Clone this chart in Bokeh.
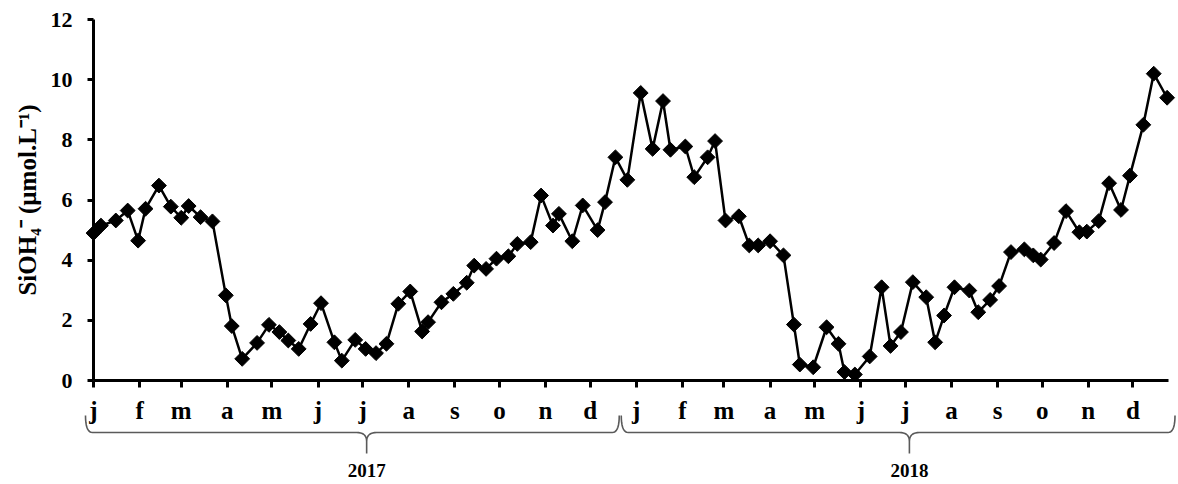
import numpy as np
import pandas as pd
from bokeh.plotting import figure
from bokeh.models import Range1d, FixedTicker, LinearAxis
from bokeh.embed import file_html
from bokeh.resources import INLINE
from bokeh.core.properties import value

# ---------------- data ----------------
series_start = "2017-01-01"
# sampling day (days since 2017-01-01)
sample_day = [0, 5, 15, 23, 30, 35, 44, 52, 59, 64, 72, 80, 89, 93, 100, 110,
              118, 125, 131, 138, 146, 153, 162, 167, 176, 183, 190, 197, 205,
              213, 221, 225, 234, 242, 251, 256, 264, 271, 279, 285, 294, 301,
              309, 313, 322, 329, 339, 344, 351, 359, 368, 376, 383, 388, 398,
              404, 413, 418, 425, 434, 441, 447, 455, 464, 471, 475, 484, 493,
              501, 505, 512, 522, 530, 536, 543, 551, 560, 566, 572, 579, 589,
              595, 603, 609, 617, 626, 632, 637, 646, 654, 663, 668, 676, 683,
              691, 697, 706, 713, 722]
# SiOH4- concentration (umol/L)
sioh4 = [4.90, 5.15, 5.32, 5.65, 4.65, 5.71, 6.48, 5.78, 5.41, 5.80, 5.43, 5.29,
         2.83, 1.81, 0.72, 1.25, 1.85, 1.61, 1.33, 1.05, 1.88, 2.57, 1.27, 0.66,
         1.35, 1.05, 0.91, 1.22, 2.55, 2.96, 1.63, 1.94, 2.60, 2.88, 3.25, 3.82,
         3.71, 4.05, 4.13, 4.54, 4.60, 6.15, 5.15, 5.54, 4.63, 5.82, 5.00, 5.93,
         7.42, 6.67, 9.56, 7.70, 9.29, 7.67, 7.78, 6.76, 7.42, 7.96, 5.32, 5.46,
         4.49, 4.49, 4.63, 4.16, 1.86, 0.53, 0.44, 1.77, 1.22, 0.28, 0.20, 0.80,
         3.10, 1.15, 1.61, 3.27, 2.77, 1.27, 2.16, 3.10, 2.99, 2.27, 2.68, 3.14,
         4.27, 4.36, 4.16, 4.02, 4.57, 5.63, 4.93, 4.95, 5.30, 6.56, 5.67, 6.81,
         8.50, 10.20, 9.40]
month_letters = ["j", "f", "m", "a", "m", "j", "j", "a", "s", "o", "n", "d"]
years = ["2017", "2018"]
y_ticks = [0, 2, 4, 6, 8, 10, 12]
y_label = "SiOH\u2084\u207b (\u00b5mol.L\u207b\u00b9)"

# ---------------- derived ticks ----------------
start = pd.Timestamp(series_start)
month_starts = pd.date_range("2017-01-01", "2018-12-01", freq="MS")
tick_days = [int((m - start).days) for m in month_starts]
tick_labels = month_letters * len(years)
year_starts = [int((pd.Timestamp(f"{y}-01-01") - start).days) for y in years]
year_ends = [int((pd.Timestamp(f"{int(y) + 1}-01-01") - start).days) for y in years]
mid_year = [int((pd.Timestamp(f"{y}-07-01") - start).days) for y in years]

# ---------------- layout constants ----------------
W, H = 1176, 480
PX_PER_DAY = 1.487
PX_PER_UNIT = 30.08
X0_PX = 93      # figure px of day 0
Y0_PX = 380     # figure px (from top) of value 0

x_range = Range1d(-X0_PX / PX_PER_DAY, (W - X0_PX) / PX_PER_DAY)
y_range = Range1d((Y0_PX - H) / PX_PER_UNIT, Y0_PX / PX_PER_UNIT)

FONT = value("Liberation Serif")

p = figure(width=W, height=H, x_range=x_range, y_range=y_range,
           output_backend="svg", toolbar_location=None, min_border=0,
           x_axis_location=None, y_axis_location=None)
p.outline_line_color = None
p.xgrid.visible = False
p.ygrid.visible = False
p.background_fill_color = "white"
p.border_fill_color = "white"

# x axis at y=0
xaxis = LinearAxis(fixed_location=0, ticker=FixedTicker(ticks=tick_days, minor_ticks=[]),
                   major_label_overrides={d: l for d, l in zip(tick_days, tick_labels)},
                   bounds=(0, 723))
xaxis.axis_line_width = 3
xaxis.axis_line_color = "black"
xaxis.major_tick_line_width = 3
xaxis.major_tick_out = 7
xaxis.major_tick_in = 0
xaxis.minor_tick_out = 0
xaxis.minor_tick_in = 0
xaxis.major_label_text_font = "Liberation Serif"
xaxis.major_label_text_font_style = "bold"
xaxis.major_label_text_font_size = "25px"
xaxis.major_label_text_color = "black"
xaxis.major_label_standoff = 9
p.add_layout(xaxis, "below")

# y axis at x=0
yaxis = LinearAxis(fixed_location=0, ticker=FixedTicker(ticks=y_ticks, minor_ticks=[]),
                   bounds=(0, 12), axis_label=y_label)
yaxis.axis_line_width = 3
yaxis.axis_line_color = "black"
yaxis.major_tick_line_width = 3
yaxis.major_tick_out = 6
yaxis.major_tick_in = 0
yaxis.minor_tick_out = 0
yaxis.minor_tick_in = 0
yaxis.major_label_text_font = "Liberation Serif"
yaxis.major_label_text_font_style = "bold"
yaxis.major_label_text_font_size = "22px"
yaxis.major_label_text_color = "black"
yaxis.major_label_standoff = 15
yaxis.axis_label_text_font = "Liberation Serif"
yaxis.axis_label_text_font_style = "bold"
yaxis.axis_label_text_font_size = "25px"
yaxis.axis_label_text_color = "black"
yaxis.axis_label_standoff = 7
p.add_layout(yaxis, "left")

# series
p.line(sample_day, sioh4, line_color="black", line_width=2.5)
p.scatter(sample_day, sioh4, marker="square", angle=np.pi / 4, size=10.5,
          fill_color="black", line_color="black")

# ---------------- braces below the month labels ----------------
def dx(px):
    return px / PX_PER_DAY

def dy(px):
    return px / PX_PER_UNIT

def qbez(p0, c, p1, n=10):
    t = np.linspace(0, 1, n)
    x = (1 - t) ** 2 * p0[0] + 2 * (1 - t) * t * c[0] + t ** 2 * p1[0]
    y = (1 - t) ** 2 * p0[1] + 2 * (1 - t) * t * c[1] + t ** 2 * p1[1]
    return list(x), list(y)

y_tip = -dy(35)
y_line = -dy(52)
y_knee = -dy(61)
y_peak = -dy(73)
pad_left = [dx(8), dx(15)]
pad_right = [dx(17), dx(4)]
peak_shift = dx(4)

for i in range(len(years)):
    x0 = year_starts[i] - pad_left[i]
    x1 = year_ends[i] - pad_right[i]
    xm = mid_year[i] + peak_shift
    r = dx(7)
    r2 = dx(10)
    xs, ys = [], []
    a, b = qbez((x0, y_tip), (x0, y_line), (x0 + r, y_line)); xs += a; ys += b
    a, b = qbez((xm - r2, y_line), (xm, y_line), (xm, y_knee)); xs += a; ys += b
    xs += [xm]; ys += [y_peak]
    xs += [xm]; ys += [y_knee]
    a, b = qbez((xm, y_knee), (xm, y_line), (xm + r2, y_line)); xs += a; ys += b
    a, b = qbez((x1 - r, y_line), (x1, y_line), (x1, y_tip)); xs += a; ys += b
    p.line(xs, ys, line_color="#5a5a5a", line_width=1.6)

year_x = [m + peak_shift for m in mid_year]
year_y = [-dy(90)] * len(years)
p.text(x=year_x, y=year_y, text=years, text_align="center", text_baseline="middle",
       text_font=FONT, text_font_style="bold", text_font_size="19px", text_color="black")

open("out.html", "w").write(file_html(p, INLINE))
